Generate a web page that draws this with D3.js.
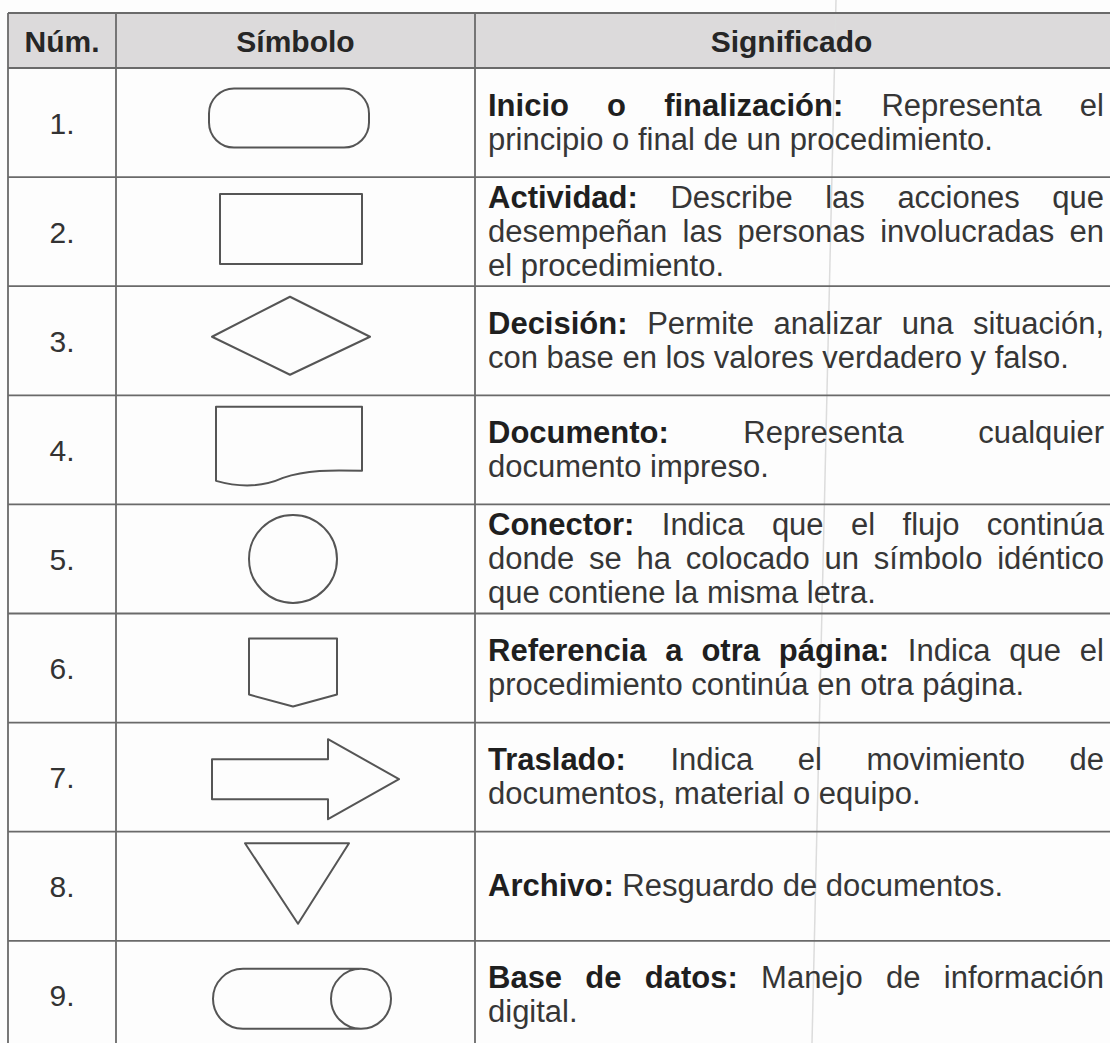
<!DOCTYPE html>
<html>
<head>
<meta charset="utf-8">
<script src="https://cdn.jsdelivr.net/npm/d3@7"></script>
<style>
  html, body { margin: 0; padding: 0; background: #fdfdfd; }
  svg { display: block; }
  text { font-family: "Liberation Sans", Arial, sans-serif; }
</style>
</head>
<body>
<svg id="chart" width="1110" height="1043"></svg>
<script>
// ---------- data ----------
const headers = ["Núm.", "Símbolo", "Significado"];
const nums = ["1.", "2.", "3.", "4.", "5.", "6.", "7.", "8.", "9."];
const symbols = ["terminal", "process", "decision", "document", "connector", "offpage", "transfer", "storage", "database"];
const titles = [
  "Inicio o finalización:",
  "Actividad:",
  "Decisión:",
  "Documento:",
  "Conector:",
  "Referencia a otra página:",
  "Traslado:",
  "Archivo:",
  "Base de datos:"
];
const descLines = [
  ["Representa el", "principio o final de un procedimiento."],
  ["Describe las acciones que", "desempeñan las personas involucradas en", "el procedimiento."],
  ["Permite analizar una situación,", "con base en los valores verdadero y falso."],
  ["Representa cualquier", "documento impreso."],
  ["Indica que el flujo continúa", "donde se ha colocado un símbolo idéntico", "que contiene la misma letra."],
  ["Indica que el", "procedimiento continúa en otra página."],
  ["Indica el movimiento de", "documentos, material o equipo."],
  ["Resguardo de documentos."],
  ["Manejo de información", "digital."]
];

// ---------- layout ----------
const W = 1110, H = 1043;
const colEdges = [8, 116, 475, 1116];
const tableTop = 13, headerBottom = 68, rowH = 109.1;
const fs = 31, lineH = 34;
const lineColor = "#6a6a6a", shapeColor = "#555";

const svg = d3.select("#chart");
svg.append("rect").attr("width", W).attr("height", H).attr("fill", "#fdfdfd");

const y = d3.scaleBand().domain(nums).range([headerBottom, headerBottom + nums.length * rowH]).padding(0);
const xCol = d3.scaleOrdinal().domain(headers).range(colEdges.slice(0, 3).map((e, i) => (e + colEdges[i + 1]) / 2));

// header background
svg.append("rect").attr("x", colEdges[0]).attr("y", tableTop)
  .attr("width", colEdges[3] - colEdges[0]).attr("height", headerBottom - tableTop)
  .attr("fill", "#dcdadb");

// faint scan fold line
svg.append("line").attr("x1", 836).attr("y1", 0).attr("x2", 812).attr("y2", H)
  .attr("stroke", "#dcdcdc").attr("stroke-width", 1.5);

// header texts
svg.selectAll("text.hdr").data(headers).join("text")
  .attr("class", "hdr")
  .attr("x", d => xCol(d) + (d === "Significado" ? -4 : 0))
  .attr("y", (tableTop + headerBottom) / 2 + 11)
  .attr("text-anchor", "middle")
  .attr("font-size", fs - 1).attr("font-weight", "bold").attr("fill", "#262626")
  .text(d => d);

// grid lines
const hLines = [tableTop, headerBottom].concat(nums.map(n => y(n) + y.bandwidth()));
svg.selectAll("line.h").data(hLines).join("line").attr("class", "h")
  .attr("x1", colEdges[0]).attr("x2", colEdges[3])
  .attr("y1", d => d).attr("y2", d => d)
  .attr("stroke", lineColor).attr("stroke-width", 1.8);
svg.selectAll("line.v").data(colEdges).join("line").attr("class", "v")
  .attr("x1", d => d).attr("x2", d => d)
  .attr("y1", tableTop).attr("y2", H)
  .attr("stroke", lineColor).attr("stroke-width", 1.8);

// numbers
svg.selectAll("text.num").data(nums).join("text").attr("class", "num")
  .attr("x", xCol("Núm."))
  .attr("y", d => y(d) + y.bandwidth() / 2 + 11)
  .attr("text-anchor", "middle")
  .attr("font-size", fs - 1).attr("fill", "#333")
  .text(d => d);

// symbol shapes (local geometry, centered in the symbol cell)
function shapePath(type) {
  const p = d3.path();
  switch (type) {
    case "terminal": {
      const x0 = -86.5, x1 = 73.5, y0 = -34, y1 = 25, r = 25;
      p.moveTo(x0 + r, y0); p.lineTo(x1 - r, y0);
      p.arcTo(x1, y0, x1, y0 + r, r); p.lineTo(x1, y1 - r); p.arcTo(x1, y1, x1 - r, y1, r);
      p.lineTo(x0 + r, y1); p.arcTo(x0, y1, x0, y1 - r, r); p.lineTo(x0, y0 + r);
      p.arcTo(x0, y0, x0 + r, y0, r); p.closePath();
      return p.toString();
    }
    case "process":
      p.rect(-75.5, -37.6, 142, 70); return p.toString();
    case "decision":
      p.moveTo(-83.5, -4); p.lineTo(-5.5, -44); p.lineTo(74.5, -4); p.lineTo(-5.5, 34); p.closePath();
      return p.toString();
    case "document":
      return "M-79.5,31 L-79.5,-43 L66.5,-43 L66.5,21 C35.5,20 10.5,20 -12.5,28 C-32.5,37 -54.5,38 -79.5,31 Z";
    case "connector":
      p.moveTo(-2.5 + 44, 0); p.arc(-2.5, 0, 44, 0, 2 * Math.PI); return p.toString();
    case "offpage":
      p.moveTo(-46.5, -29.5); p.lineTo(41.5, -29.5); p.lineTo(41.5, 26.5); p.lineTo(-2.5, 38.5);
      p.lineTo(-46.5, 26.5); p.closePath(); return p.toString();
    case "transfer":
      p.moveTo(-83.5, -18); p.lineTo(32.5, -18); p.lineTo(32.5, -38); p.lineTo(103.5, 2);
      p.lineTo(32.5, 42); p.lineTo(32.5, 22); p.lineTo(-83.5, 22); p.closePath(); return p.toString();
    case "storage":
      p.moveTo(-50.5, -43); p.lineTo(53.5, -43); p.lineTo(2.5, 37.5); p.closePath(); return p.toString();
    case "database": {
      const x0 = -82.5, x1 = 95.5, y0 = -26.5, r = 30;
      p.moveTo(x0 + r, y0); p.lineTo(x1 - r, y0);
      p.arc(x1 - r, y0 + r, r, -Math.PI / 2, Math.PI / 2);
      p.lineTo(x0 + r, y0 + 2 * r);
      p.arc(x0 + r, y0 + r, r, Math.PI / 2, 3 * Math.PI / 2);
      p.closePath();
      p.moveTo(x1, y0 + r); p.arc(x1 - r, y0 + r, r, 0, 2 * Math.PI);
      return p.toString();
    }
  }
}

svg.selectAll("path.sym").data(nums).join("path").attr("class", "sym")
  .attr("transform", d => `translate(${xCol("Símbolo")},${y(d) + y.bandwidth() / 2})`)
  .attr("d", (d, i) => shapePath(symbols[i]))
  .attr("fill", "none").attr("stroke", shapeColor).attr("stroke-width", 2)
  .attr("stroke-linejoin", "round");

// meaning texts (justified lines, bold title)
const textLeft = colEdges[2] + 13, textRight = 1104;
const spaceW = 0.278 * fs;
nums.forEach((n, i) => {
  const titleWords = titles[i].split(" ");
  const lines = descLines[i].map((l, k) => {
    const words = l.split(" ").map(w => ({ w, bold: false }));
    return k === 0 ? titleWords.map(w => ({ w, bold: true })).concat(words) : words;
  });
  const cy = y(n) + y.bandwidth() / 2;
  const base0 = cy - (lines.length - 1) * lineH / 2 + 10;
  const g = svg.append("g");
  lines.forEach((words, k) => {
    const nodes = words.map(o => g.append("text")
      .attr("y", base0 + k * lineH)
      .attr("font-size", fs)
      .attr("font-weight", o.bold ? "bold" : "normal")
      .attr("fill", o.bold ? "#1f1f1f" : "#363636")
      .text(o.w));
    const widths = nodes.map(t => t.node().getComputedTextLength());
    const total = d3.sum(widths);
    const last = k === lines.length - 1;
    const gap = (!last && words.length > 1) ? (textRight - textLeft - total) / (words.length - 1) : spaceW;
    let x = textLeft;
    nodes.forEach((t, j) => { t.attr("x", x); x += widths[j] + gap; });
  });
});
</script>
</body>
</html>
